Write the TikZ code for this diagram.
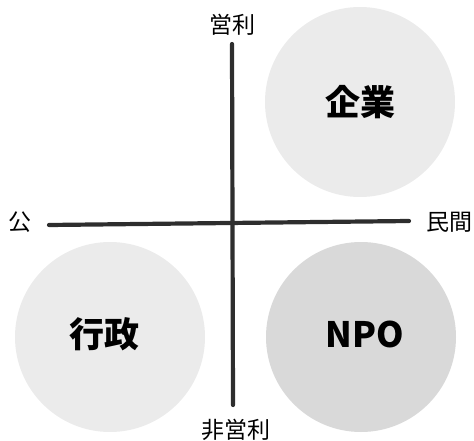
\documentclass[tikz,border=0pt]{standalone}
\usepackage{fontspec}
\newfontfamily\cjk{Noto Sans CJK JP}
\begin{document}
\begin{tikzpicture}[x=1pt,y=-1pt,
  blob/.style={circle,minimum size=190pt,inner sep=0pt,text=black!85},
  axis/.style={line width=4.2pt,draw=black!82,line cap=round},
  lab/.style={font=\cjk\fontsize{23}{23}\selectfont,inner sep=0pt},
  big/.style={font=\cjk\bfseries\fontsize{35}{35}\selectfont}]
\useasboundingbox (0,0) rectangle (474,441);
\node[blob,fill=black!8] (kigyo) at (360,102) {};
\node[blob,fill=black!8] (gyosei) at (110,337) {};
\node[blob,fill=black!15] (npo) at (361,337) {};
\node[big] at (kigyo) {企業};
\node[big] at ([xshift=-6pt,yshift=3pt]gyosei) {行政};
\node[big] at ([xshift=4pt,yshift=3pt]npo) {NPO};
\coordinate (top) at (232,44);
\coordinate (bot) at (233,405);
\coordinate (left) at (49,225);
\coordinate (right) at (409,221);
\draw[axis] (top) -- (bot);
\draw[axis] (left) -- (right);
\node[lab] (eiri) at (232,25) {営利};
\node[lab] (hieiri) at (236,430) {非営利};
\node[lab] (ko) at (20,222) {公};
\node[lab] (minkan) at (449,222) {民間};
\end{tikzpicture}
\end{document}
